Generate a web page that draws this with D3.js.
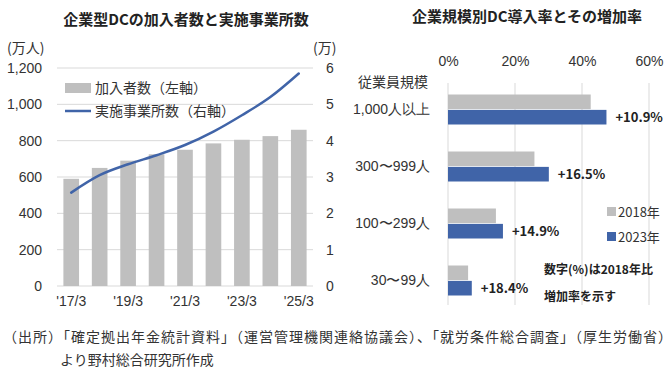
<!DOCTYPE html>
<html><head><meta charset="utf-8">
<script src="https://cdn.jsdelivr.net/npm/d3@7"></script>
<style>
body{margin:0;background:#fff;}
svg{font-family:"Noto Sans CJK JP","Noto Sans",sans-serif;}
</style></head><body>
<svg id="c" width="672" height="376"></svg>
<script>
// Left chart data
const years = ["'17/3","'18/3","'19/3","'20/3","'21/3","'22/3","'23/3","'24/3","'25/3"];
const members = [590, 650, 690, 725, 750, 785, 805, 825, 860];      // 万人
const offices = [2.57, 3.05, 3.35, 3.6, 3.88, 4.25, 4.7, 5.2, 5.85]; // 万
const leftTicks = [0, 200, 400, 600, 800, 1000, 1200];
const rightTicks = [0, 1, 2, 3, 4, 5, 6];
// Right chart data
const sizes = ["1,000人以上", "300〜999人", "100〜299人", "30〜99人"];
const rate2018 = [42.6, 25.8, 14.3, 6.0];
const rate2023 = [47.3, 30.1, 16.4, 7.1];
const growth = ["+10.9%", "+16.5%", "+14.9%", "+18.4%"];
const pctTicks = [0, 20, 40, 60];

const svg = d3.select("#c");
const GRAY = "#bfbfbf", BLUE = "#4064a8", TXT = "#333", GRID = "#d9d9d9";

// ---------- Left chart ----------
svg.append("text").attr("x", 186).attr("y", 25).attr("text-anchor", "middle")
  .attr("font-size", 15).attr("font-weight", "bold").attr("fill", "#222")
  .text("企業型DCの加入者数と実施事業所数");

const x = d3.scaleBand().domain(years).range([57, 313]).paddingInner(0.45).paddingOuter(0.225);
const yL = d3.scaleLinear().domain([0, 1200]).range([286, 68]);
const yR = d3.scaleLinear().domain([0, 6]).range([286, 68]);

const g = svg.append("g");
g.selectAll(".grid").data(leftTicks).join("line")
  .attr("x1", 57).attr("x2", 313).attr("y1", d => yL(d)).attr("y2", d => yL(d))
  .attr("stroke", GRID).attr("stroke-width", 1);

g.selectAll(".bar").data(members).join("rect")
  .attr("x", (d, i) => x(years[i])).attr("width", x.bandwidth())
  .attr("y", d => yL(d)).attr("height", d => yL(0) - yL(d)).attr("fill", GRAY);

const line = d3.line().x((d, i) => x(years[i]) + x.bandwidth() / 2).y(d => yR(d)).curve(d3.curveMonotoneX);
g.append("path").datum(offices).attr("d", line).attr("fill", "none")
  .attr("stroke", BLUE).attr("stroke-width", 2.5).attr("stroke-linecap", "round");

const axL = d3.axisLeft(yL).tickValues(leftTicks).tickSize(0).tickPadding(0).tickFormat(d3.format(","));
const gl = svg.append("g").attr("transform", "translate(42,0)").call(axL);
gl.select(".domain").remove();
gl.selectAll("text").attr("font-size", 14).attr("fill", TXT).attr("font-family", "inherit");

const axR = d3.axisRight(yR).tickValues(rightTicks).tickSize(0).tickPadding(0).tickFormat(d3.format("d"));
const gr = svg.append("g").attr("transform", "translate(326,0)").call(axR);
gr.select(".domain").remove();
gr.selectAll("text").attr("font-size", 14).attr("fill", TXT).attr("font-family", "inherit");

const axB = d3.axisBottom(x).tickValues(years.filter((d, i) => i % 2 === 0)).tickSize(0).tickPadding(0);
const gb = svg.append("g").attr("transform", "translate(0,296)").call(axB);
gb.select(".domain").remove();
gb.selectAll("text").attr("font-size", 14).attr("fill", TXT).attr("font-family", "inherit").attr("dy", "0.71em");

svg.append("text").attr("x", 7).attr("y", 53).attr("font-size", 14).attr("fill", TXT).text("(万人)");
svg.append("text").attr("x", 313).attr("y", 53).attr("font-size", 14).attr("fill", TXT).text("(万)");

// legend
svg.append("rect").attr("x", 65).attr("y", 83).attr("width", 26).attr("height", 10).attr("fill", GRAY);
svg.append("text").attr("x", 95).attr("y", 93).attr("font-size", 14).attr("fill", TXT).text("加入者数（左軸）");
svg.append("line").attr("x1", 65).attr("x2", 91).attr("y1", 111).attr("y2", 111).attr("stroke", BLUE).attr("stroke-width", 2.5);
svg.append("text").attr("x", 95).attr("y", 116).attr("font-size", 14).attr("fill", TXT).text("実施事業所数（右軸）");

// ---------- Right chart ----------
svg.append("text").attr("x", 527).attr("y", 22).attr("text-anchor", "middle")
  .attr("font-size", 15).attr("font-weight", "bold").attr("fill", "#222")
  .text("企業規模別DC導入率とその増加率");

const xp = d3.scaleLinear().domain([0, 60]).range([448, 649]);
const yc = d3.scaleBand().domain(sizes).range([81, 309]);
const ys = d3.scaleBand().domain(["2018", "2023"]).range([0, 30]).paddingInner(0.05);

const rg = svg.append("g");
rg.selectAll(".pg").data(pctTicks).join("line")
  .attr("x1", d => xp(d)).attr("x2", d => xp(d)).attr("y1", 83).attr("y2", 305)
  .attr("stroke", GRID);

const axT = d3.axisTop(xp).tickValues(pctTicks).tickSize(0).tickPadding(0).tickFormat(d => d + "%");
const gt = svg.append("g").attr("transform", "translate(0,66)").call(axT);
gt.select(".domain").remove();
gt.selectAll("text").attr("font-size", 14).attr("fill", TXT).attr("font-family", "inherit");

const off = (yc.bandwidth() - 30) / 2;
rg.selectAll(".b18").data(rate2018).join("rect")
  .attr("x", xp(0)).attr("y", (d, i) => yc(sizes[i]) + off + ys("2018"))
  .attr("width", d => xp(d) - xp(0)).attr("height", ys.bandwidth()).attr("fill", GRAY);
rg.selectAll(".b23").data(rate2023).join("rect")
  .attr("x", xp(0)).attr("y", (d, i) => yc(sizes[i]) + off + ys("2023"))
  .attr("width", d => xp(d) - xp(0)).attr("height", ys.bandwidth()).attr("fill", BLUE);
rg.selectAll(".gl").data(growth).join("text")
  .attr("x", (d, i) => xp(rate2023[i]) + 9)
  .attr("y", (d, i) => yc(sizes[i]) + off + ys("2023") + ys.bandwidth() / 2)
  .attr("dy", "0.35em").attr("font-size", 13).attr("font-weight", "bold").attr("fill", "#222")
  .text(d => d);

const axC = d3.axisLeft(yc).tickSize(0).tickPadding(0);
const gc = svg.append("g").attr("transform", "translate(430,0)").call(axC);
gc.select(".domain").remove();
gc.selectAll("text").attr("font-size", 14).attr("fill", TXT).attr("font-family", "inherit");

svg.append("text").attr("x", 358).attr("y", 87).attr("font-size", 14).attr("fill", TXT).text("従業員規模");

// legend right
svg.append("rect").attr("x", 607).attr("y", 207).attr("width", 9).attr("height", 9).attr("fill", GRAY);
svg.append("text").attr("x", 618).attr("y", 217).attr("font-size", 13).attr("fill", TXT).text("2018年");
svg.append("rect").attr("x", 607).attr("y", 232).attr("width", 9).attr("height", 9).attr("fill", BLUE);
svg.append("text").attr("x", 618).attr("y", 242).attr("font-size", 13).attr("fill", TXT).text("2023年");

svg.append("text").attr("x", 544).attr("y", 274).attr("font-size", 12).attr("font-weight", "bold").attr("fill", "#222").text("数字(%)は2018年比");
svg.append("text").attr("x", 544).attr("y", 301).attr("font-size", 12).attr("font-weight", "bold").attr("fill", "#222").text("増加率を示す");

// footer
svg.append("text").attr("x", 3).attr("y", 342).attr("font-size", 14).attr("letter-spacing", 1).attr("fill", TXT)
  .text("（出所）「確定拠出年金統計資料」（運営管理機関連絡協議会）、「就労条件総合調査」（厚生労働省）");
svg.append("text").attr("x", 60).attr("y", 365).attr("font-size", 14).attr("fill", TXT)
  .text("より野村総合研究所作成");
</script>
</body></html>
